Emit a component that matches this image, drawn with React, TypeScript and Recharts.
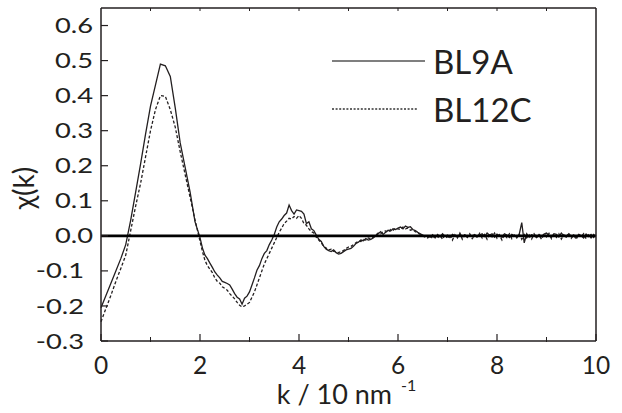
import React from 'react';
import { LineChart, Line, XAxis, YAxis, ReferenceLine, Legend } from 'recharts';

// wave number k (10 nm^-1)
const kLow = [0, 0.1, 0.2, 0.3, 0.4, 0.5, 0.6, 0.7, 0.8, 0.9, 1.0, 1.1, 1.2, 1.3, 1.4, 1.5, 1.6, 1.7, 1.8, 1.9];
const kHigh = [
  2.0, 2.05, 2.1, 2.15, 2.2, 2.25, 2.3, 2.35, 2.4, 2.45,
  2.5, 2.55, 2.6, 2.65, 2.7, 2.75, 2.8, 2.85, 2.9, 2.95,
  3.0, 3.05, 3.1, 3.15, 3.2, 3.25, 3.3, 3.35, 3.4, 3.45,
  3.5, 3.55, 3.6, 3.65, 3.7, 3.75, 3.8, 3.85, 3.9, 3.95,
  4.0, 4.05, 4.1, 4.15, 4.2, 4.25, 4.3, 4.35, 4.4, 4.45,
  4.5, 4.55, 4.6, 4.65, 4.7, 4.75, 4.8, 4.85, 4.9, 4.95,
  5.0, 5.05, 5.1, 5.15, 5.2, 5.25, 5.3, 5.35, 5.4, 5.45,
  5.5, 5.55, 5.6, 5.65, 5.7, 5.75, 5.8, 5.85, 5.9, 5.95,
  6.0, 6.05, 6.1, 6.15, 6.2, 6.25, 6.3, 6.35, 6.4, 6.45,
  6.5, 6.55, 6.6, 6.65, 6.7, 6.75, 6.8, 6.85, 6.9, 6.95,
  7.0, 7.05, 7.1, 7.15, 7.2, 7.25, 7.3, 7.35, 7.4, 7.45,
  7.5, 7.55, 7.6, 7.65, 7.7, 7.75, 7.8, 7.85, 7.9, 7.95,
  8.0, 8.05, 8.1, 8.15, 8.2, 8.25, 8.3, 8.35, 8.4, 8.45,
  8.5, 8.55, 8.6, 8.65, 8.7, 8.75, 8.8, 8.85, 8.9, 8.95,
  9.0, 9.05, 9.1, 9.15, 9.2, 9.25, 9.3, 9.35, 9.4, 9.45,
  9.5, 9.55, 9.6, 9.65, 9.7, 9.75, 9.8, 9.85, 9.9, 9.95,
  10.0,
];

// chi(k) measured at BL9A (solid)
const bl9aLow = [-0.205, -0.17, -0.135, -0.1, -0.065, -0.025, 0.045, 0.125, 0.205, 0.29, 0.37, 0.43, 0.49, 0.485, 0.455, 0.365, 0.265, 0.195, 0.125, 0.04];
const bl9aHigh = [
  -0.005, -0.035, -0.055, -0.065, -0.078, -0.09, -0.103, -0.112, -0.12, -0.13,
  -0.133, -0.136, -0.14, -0.152, -0.165, -0.175, -0.18, -0.195, -0.178, -0.172,
  -0.16, -0.14, -0.12, -0.098, -0.085, -0.065, -0.05, -0.042, -0.025, -0.012,
  0.004, 0.025, 0.04, 0.048, 0.058, 0.065, 0.088, 0.072, 0.062, 0.074,
  0.072, 0.07, 0.062, 0.035, 0.04, 0.02, 0.015, 0.002, -0.01, -0.016,
  -0.03, -0.038, -0.042, -0.045, -0.04, -0.048, -0.052, -0.05, -0.045, -0.04,
  -0.038, -0.036, -0.03, -0.022, -0.018, -0.012, -0.014, -0.008, -0.012, -0.01,
  -0.006, 0.0, 0.006, 0.012, 0.004, 0.01, 0.016, 0.014, 0.02, 0.018,
  0.022, 0.025, 0.02, 0.028, 0.024, 0.026, 0.018, 0.015, 0.01, 0.006,
  0.002, -0.002, 0.0, -0.004, 0.003, -0.006, 0.004, -0.003, 0.006, -0.002,
  0.002, -0.005, 0.004, 0.0, -0.004, 0.005, -0.002, 0.003, -0.003, 0.002,
  0.0, 0.004, -0.003, 0.002, 0.006, -0.002, 0.008, 0.002, 0.006, -0.004,
  0.005, 0.0, -0.004, 0.006, 0.002, -0.005, 0.004, 0.0, -0.003, 0.005,
  0.038, -0.02, 0.006, -0.004, 0.003, 0.0, -0.005, 0.004, -0.002, 0.005,
  0.008, 0.002, -0.004, 0.006, 0.004, -0.003, 0.008, 0.0, -0.004, 0.006,
  -0.002, 0.003, -0.005, 0.004, 0.0, -0.006, 0.005, -0.002, 0.004, -0.005,
  0.002,
];

// chi(k) measured at BL12C (dashed)
const bl12cLow = [-0.245, -0.207, -0.17, -0.13, -0.093, -0.055, 0.015, 0.085, 0.15, 0.225, 0.3, 0.36, 0.4, 0.398, 0.36, 0.31, 0.24, 0.175, 0.11, 0.045];
const bl12cHigh = [
  -0.015, -0.045, -0.07, -0.085, -0.095, -0.105, -0.12, -0.13, -0.135, -0.145,
  -0.15, -0.155, -0.165, -0.172, -0.18, -0.19, -0.198, -0.203, -0.2, -0.195,
  -0.19, -0.175, -0.16, -0.14, -0.12, -0.1, -0.08, -0.065, -0.05, -0.035,
  -0.02, -0.005, 0.01, 0.022, 0.035, 0.042, 0.05, 0.048, 0.055, 0.05,
  0.058, 0.05, 0.035, 0.03, 0.02, 0.012, 0.008, -0.004, -0.012, -0.02,
  -0.03, -0.035, -0.04, -0.038, -0.044, -0.045, -0.048, -0.045, -0.042, -0.036,
  -0.032, -0.03, -0.025, -0.02, -0.015, -0.016, -0.01, -0.012, -0.006, -0.008,
  -0.004, 0.002, 0.008, 0.006, 0.012, 0.014, 0.01, 0.018, 0.016, 0.022,
  0.02, 0.018, 0.025, 0.02, 0.022, 0.016, 0.018, 0.012, 0.008, 0.004,
  0.0, -0.004, -0.006, 0.002, -0.008, -0.002, -0.006, 0.002, -0.01, 0.004,
  -0.008, 0.005, -0.012, 0.003, -0.006, 0.008, -0.01, 0.002, -0.005, 0.006,
  -0.008, 0.001, -0.004, 0.007, -0.006, 0.004, -0.01, 0.005, -0.003, 0.008,
  -0.007, 0.003, -0.012, 0.004, -0.005, 0.006, -0.008, 0.002, -0.006, 0.005,
  -0.01, 0.004, -0.006, 0.003, -0.009, 0.006, -0.004, 0.002, -0.01, 0.005,
  -0.003, 0.007, -0.008, 0.002, -0.005, 0.006, -0.009, 0.003, -0.004, 0.008,
  -0.007, 0.002, -0.01, 0.005, -0.003, 0.006, -0.008, 0.003, -0.006, 0.004,
  -0.002,
];

const kValues = [...kLow, ...kHigh];
const bl9a = [...bl9aLow, ...bl9aHigh];
const bl12c = [...bl12cLow, ...bl12cHigh];

const xMajorTicks = [0, 2, 4, 6, 8, 10];
const xMinorTicks = [1, 3, 5, 7, 9];
const xTopTicks = [1, 2, 3, 4, 5, 6, 7, 8, 9];
const yMajorTicks = [-0.3, -0.2, -0.1, 0, 0.1, 0.2, 0.3, 0.4, 0.5, 0.6];
const yMinorTicks = [-0.25, -0.15, -0.05, 0.05, 0.15, 0.25, 0.35, 0.45, 0.55];
const yRightTicks = [-0.25, -0.2, -0.15, -0.1, -0.05, 0, 0.05, 0.1, 0.15, 0.2, 0.25, 0.3, 0.35, 0.4, 0.45, 0.5, 0.55, 0.6];

const series = [
  { key: 'bl9a', name: 'BL9A', dash: undefined as string | undefined, legendDash: undefined as string | undefined, legendColor: '#555', legendEnd: 95 },
  { key: 'bl12c', name: 'BL12C', dash: '3 2', legendDash: '2 1.6', legendColor: '#333', legendEnd: 88 },
];

const data = kValues.map((k, i) => ({ k, bl9a: bl9a[i], bl12c: bl12c[i] }));

const INK = '#231f20';
const FONT = 'Lato, "Open Sans", sans-serif';

const XTick = (props: any) => {
  const { x, y, payload } = props;
  return (
    <text x={x} y={y} dy="0.72em" textAnchor="middle" fontSize={24.5} fontFamily={FONT} fill={INK}>
      {String(payload.value)}
    </text>
  );
};

const YTick = (props: any) => {
  const { x, y, payload } = props;
  const v = Number(payload.value);
  const shift = v < 0 ? -9 : 0;
  return (
    <g transform={`translate(${x + shift},${y}) scale(1.3,1)`}>
      <text x={0} y={0} dy="0.36em" textAnchor="end" fontSize={21} fontFamily={FONT} fill={INK}>
        {v.toFixed(1)}
      </text>
    </g>
  );
};

const EmptyTick = () => <g />;

const XTitle = (props: any) => {
  const vb = props.viewBox || { x: 101, y: 341, width: 495, height: 0 };
  const cx = vb.x + vb.width / 2;
  return (
    <text x={cx - 2} y={404} textAnchor="middle" fontSize={27} fontFamily={FONT} fill={INK}>
      k / 10 nm
      <tspan dx={9} dy={-13} fontSize={16}>-1</tspan>
    </text>
  );
};

const YTitle = () => (
  <text x={34} y={188} transform="rotate(-90, 34, 188)" textAnchor="middle" fontSize={28} fontFamily={FONT} fill={INK}>
    χ(k)
  </text>
);

const LegendContent = (props: any) => {
  const payload = props.payload || [];
  const present = series.filter((s) => payload.length === 0 || payload.some((p: any) => p.dataKey === s.key || p.value === s.name));
  return (
    <svg width={260} height={100} style={{ overflow: 'visible' }}>
      {present.map((cfg, i) => {
        const cy = 23 + i * 48;
        return (
          <g key={cfg.key}>
            <line x1={2} x2={cfg.legendEnd} y1={cy} y2={cy} stroke={cfg.legendColor} strokeWidth={1.3} strokeDasharray={cfg.legendDash} />
            <text x={103} y={cy + 12.5} fontSize={33} fontFamily={FONT} fill={INK}>
              {cfg.name}
            </text>
          </g>
        );
      })}
    </svg>
  );
};

export default function App() {
  return (
    <div style={{ position: 'absolute', left: 0, top: 0, width: 622, height: 413, background: '#fff' }}>
      <LineChart width={622} height={413} data={data} margin={{ top: 7, right: 25, bottom: 70, left: 99 }}>
        <XAxis
          xAxisId="b"
          dataKey="k"
          type="number"
          domain={[0, 10]}
          ticks={xMajorTicks}
          interval={0}
          height={1}
          tickSize={-7}
          tickMargin={22}
          tick={XTick}
          axisLine={{ stroke: INK, strokeWidth: 1.5 }}
          tickLine={{ stroke: INK, strokeWidth: 1.2 }}
          label={XTitle}
        />
        <XAxis
          xAxisId="bm"
          dataKey="k"
          type="number"
          domain={[0, 10]}
          ticks={xMinorTicks}
          interval={0}
          height={1}
          tickSize={-5}
          tick={EmptyTick}
          axisLine={false}
          tickLine={{ stroke: INK, strokeWidth: 1 }}
        />
        <XAxis
          xAxisId="t"
          orientation="top"
          dataKey="k"
          type="number"
          domain={[0, 10]}
          ticks={xTopTicks}
          interval={0}
          height={1}
          tickSize={-3}
          tick={EmptyTick}
          axisLine={{ stroke: INK, strokeWidth: 1.5 }}
          tickLine={{ stroke: INK, strokeWidth: 1 }}
        />
        <YAxis
          yAxisId="l"
          type="number"
          domain={[-0.3, 0.65]}
          ticks={yMajorTicks}
          interval={0}
          width={1}
          tickSize={-7}
          tickMargin={15}
          tick={YTick}
          axisLine={{ stroke: INK, strokeWidth: 1.5 }}
          tickLine={{ stroke: INK, strokeWidth: 1.2 }}
          label={YTitle}
        />
        <YAxis
          yAxisId="lm"
          type="number"
          domain={[-0.3, 0.65]}
          ticks={yMinorTicks}
          interval={0}
          width={1}
          tickSize={-4.5}
          tick={EmptyTick}
          axisLine={false}
          tickLine={{ stroke: INK, strokeWidth: 1 }}
        />
        <YAxis
          yAxisId="r"
          orientation="right"
          type="number"
          domain={[-0.3, 0.65]}
          ticks={yRightTicks}
          interval={0}
          width={1}
          tickSize={-3}
          tick={EmptyTick}
          axisLine={{ stroke: INK, strokeWidth: 1.5 }}
          tickLine={{ stroke: INK, strokeWidth: 1 }}
        />
        {series.map((s) => (
          <Line
            key={s.key}
            xAxisId="b"
            yAxisId="l"
            dataKey={s.key}
            name={s.name}
            type="linear"
            stroke={INK}
            strokeWidth={1.3}
            strokeDasharray={s.dash}
            dot={false}
            activeDot={false}
            isAnimationActive={false}
          />
        ))}
        <ReferenceLine xAxisId="b" yAxisId="l" y={0} stroke="#000" strokeWidth={2.6} />
        <Legend
          layout="horizontal"
          verticalAlign="middle"
          align="center"
          content={LegendContent}
          wrapperStyle={{ position: 'absolute', left: 330, top: 38, width: 260, height: 100 }}
        />
      </LineChart>
    </div>
  );
}
